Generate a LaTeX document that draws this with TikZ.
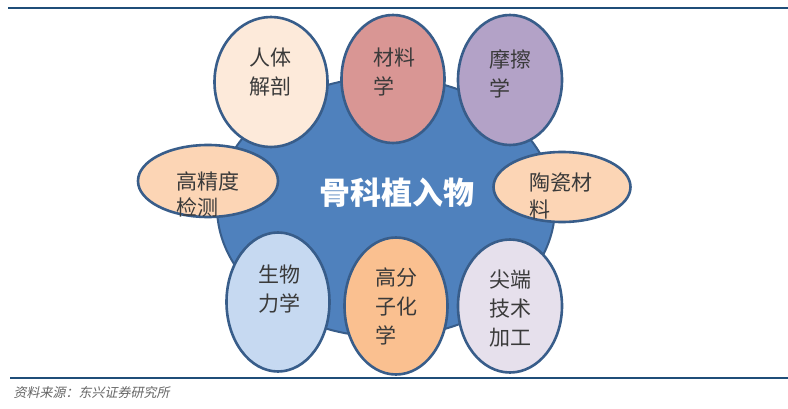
\documentclass[tikz,border=0pt]{standalone}
\usepackage{fontspec}
\setmainfont{Noto Sans CJK SC}
\newfontfamily\cjkslant[FakeSlant=0.2]{Noto Sans CJK SC}
\usetikzlibrary{shapes.geometric, positioning}

\definecolor{ruleblue}{HTML}{1F4E79}
\definecolor{edgeblue}{HTML}{385D8A}
\definecolor{hubblue}{HTML}{4F81BD}
\definecolor{textgray}{HTML}{3A3A3A}
\definecolor{peachlight}{HTML}{FDEADA}
\definecolor{rose}{HTML}{D99694}
\definecolor{lavender}{HTML}{B3A2C7}
\definecolor{peach}{HTML}{FCD5B5}
\definecolor{skyblue}{HTML}{C6D9F1}
\definecolor{orange}{HTML}{FAC090}
\definecolor{lilac}{HTML}{E6E0EC}

\begin{document}
\begin{tikzpicture}[
		x=1pt, y=-1pt,
		rule/.style={draw=ruleblue, line width=2.6pt},
		hub/.style={ellipse, draw=edgeblue, line width=2pt, fill=hubblue, inner sep=0pt,
			minimum width=338pt, minimum height=260pt},
		field/.style={ellipse, draw=edgeblue, line width=2.6pt, inner sep=0pt},
		tall/.style={field, minimum width=104pt, minimum height=132pt},
		wide/.style={field, minimum width=139pt, minimum height=71pt},
		tag/.style={font=\fontsize{21}{29}\selectfont, text=textgray, align=left, inner sep=0pt},
		title/.style={font=\fontsize{31}{36}\selectfont\bfseries, text=white},
		source/.style={font=\cjkslant\fontsize{13}{15}\selectfont, text=black!60, anchor=west}
		]
		
		\fill[white] (0,0) rectangle (788,409);
		\useasboundingbox (0,0) rectangle (788,409);
		
		% --- 1. Frame rules ---
		\coordinate (topL) at (8,8);
		\coordinate (topR) at (788,8);
		\coordinate (botL) at (10,378);
		\coordinate (botR) at (788,378);
		\draw[rule] (topL) -- (topR);
		\draw[rule] (botL) -- (botR);
		
		% --- 2. The central disc ---
		\node[hub] (hub) at (386,207) {};
		\node[title] (hub-t) at (397,193) {骨科植入物};
		
		% --- 3. The surrounding fields ---
		\node[tall, fill=peachlight, minimum width=113pt, minimum height=130pt] (anat) at (271,82) {};
		\node[tall, fill=rose, minimum width=103pt, minimum height=128pt] (matl) at (393,79) {};
		\node[tall, fill=lavender, minimum height=130pt] (trib) at (510,80) {};
		\node[wide, fill=peach, minimum width=140pt, minimum height=72pt] (meas) at (208,181) {};
		\node[wide, fill=peach, minimum width=137pt, minimum height=70pt] (cera) at (562,187) {};
		\node[tall, fill=skyblue, minimum width=103pt, minimum height=139pt] (biom) at (278,302) {};
		\node[tall, fill=orange, minimum width=103pt, minimum height=137pt] (poly) at (396,306) {};
		\node[tall, fill=lilac, minimum height=133pt] (proc) at (510,306) {};
		
		% Labels inside the fields
		\node[tag] (anat-t) at (270,72) {人体\\解剖};
		\node[tag] (matl-t) at (394,72) {材料\\学};
		\node[tag] (trib-t) at (510,74) {摩擦\\学};
		\node[tag, font=\fontsize{21}{26}\selectfont] (meas-t) at (208,194) {高精度\\检测};
		\node[tag, font=\fontsize{21}{27}\selectfont] (cera-t) at (561,196) {陶瓷材\\料};
		\node[tag] (biom-t) at (279,289) {生物\\力学};
		\node[tag] (poly-t) at (396,306) {高分\\子化\\学};
		\node[tag] (proc-t) at (510,309) {尖端\\技术\\加工};
		
		% --- 4. Source note ---
		\node[source] (note) at (10,393) {资料来源：东兴证券研究所};
		
	\end{tikzpicture}
\end{document}
